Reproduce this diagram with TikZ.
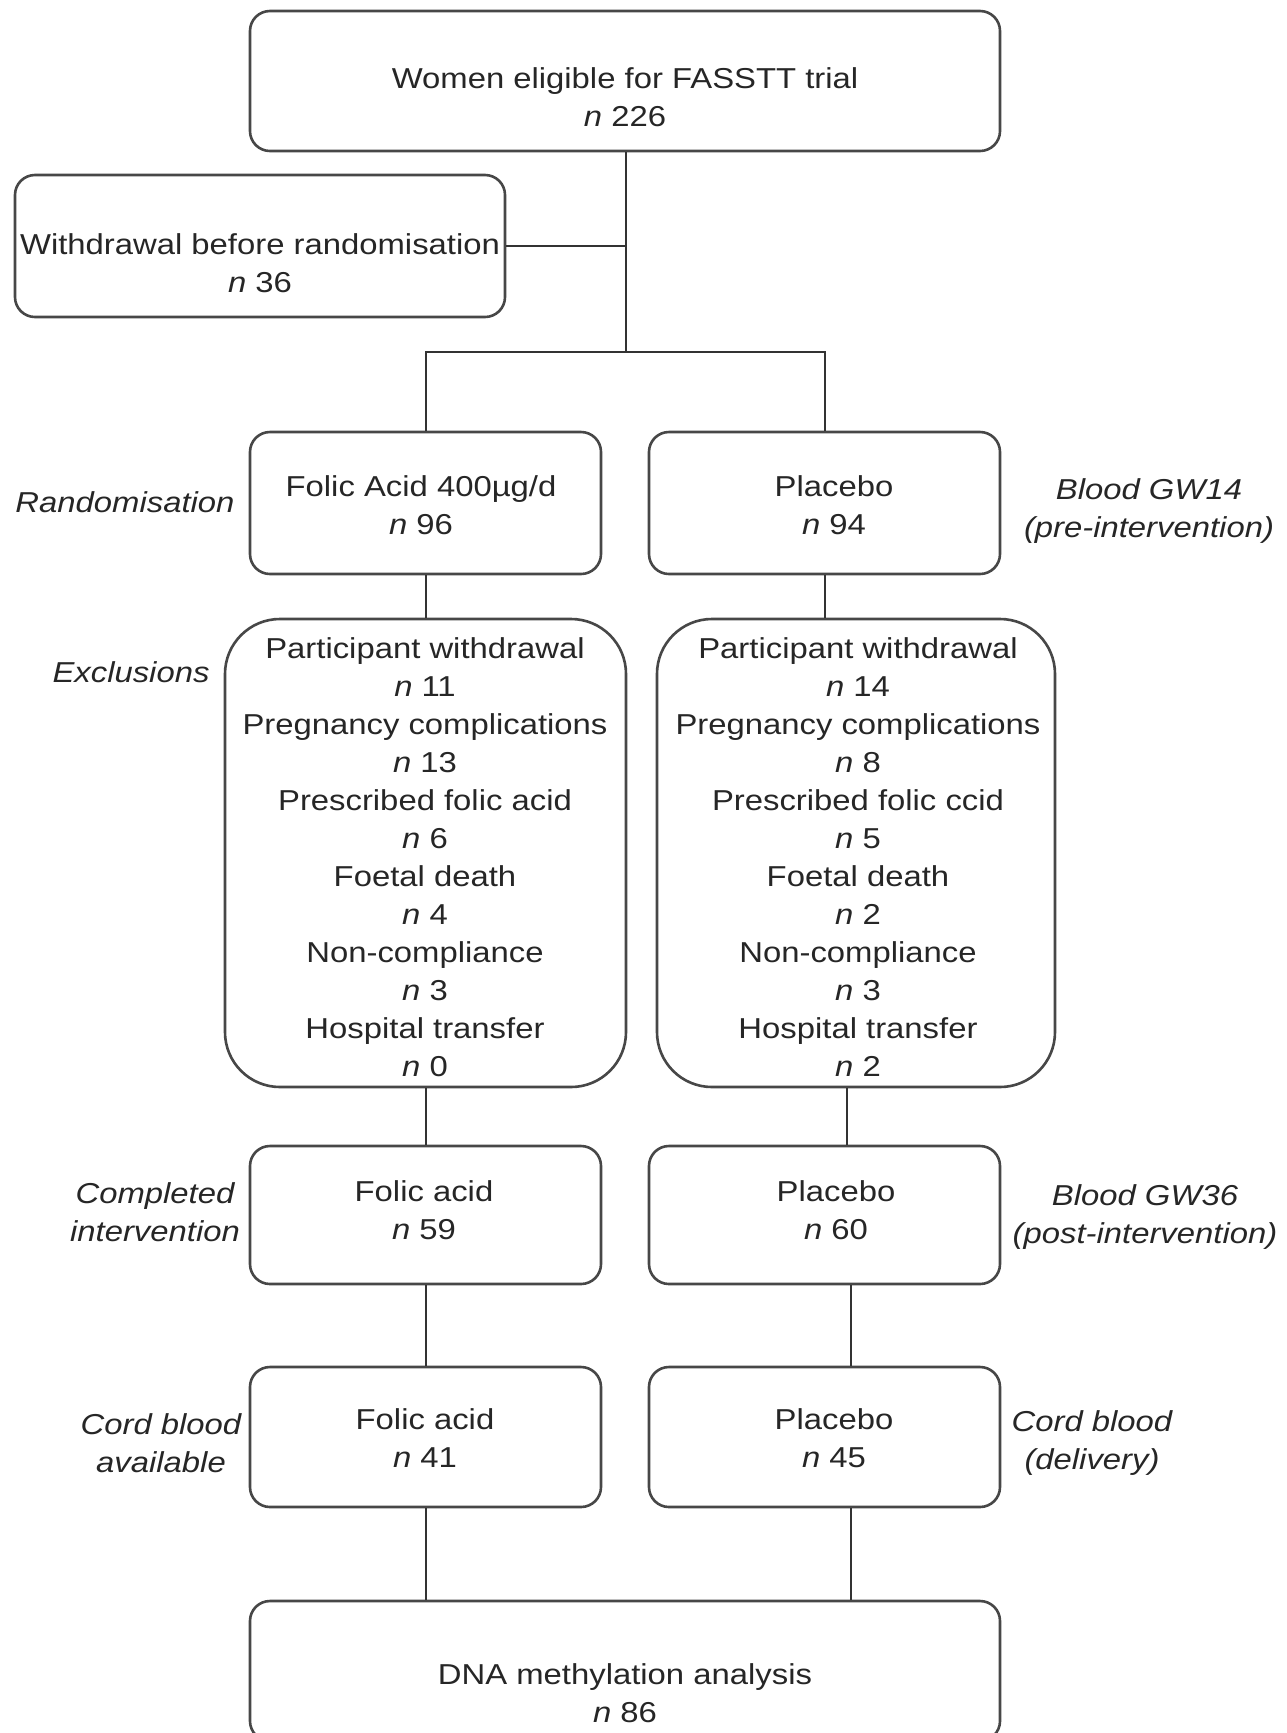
\documentclass[tikz,border=0pt]{standalone}
\usepackage{fontspec}
\setmainfont{Liberation Sans}[FakeStretch=1.14]
\begin{document}
\begin{tikzpicture}[x=0.5bp,y=-0.5bp,
  every node/.style={font=\fontsize{14.4bp}{19bp}\selectfont, text=black!85},
  box/.style={draw=black!72, line width=1.3bp, rounded corners=10bp, inner sep=0pt},
  exclbox/.style={box, rounded corners=27.5bp},
  txt/.style={align=center},
  side/.style={align=center, font=\fontsize{14.4bp}{19bp}\selectfont\itshape},
  conn/.style={draw=black!80, line width=1bp}]
\fill[white] (0,0) rectangle (1287,1733);
\useasboundingbox (0,0) rectangle (1287,1733);

% boxes
\node[box, minimum width=375bp, minimum height=70bp] (top) at (625,81) {};
\node[box, minimum width=245bp, minimum height=71bp] (wd) at (260,246) {};
\node[box, minimum width=175.5bp, minimum height=71bp] (randL) at (425.5,503) {};
\node[box, minimum width=175.5bp, minimum height=71bp] (randR) at (824.5,503) {};
\node[exclbox, minimum width=200.5bp, minimum height=234bp] (exclL) at (425.5,853) {};
\node[exclbox, minimum width=199bp, minimum height=234bp] (exclR) at (856,853) {};
\node[box, minimum width=175.5bp, minimum height=69bp] (compL) at (425.5,1215) {};
\node[box, minimum width=175.5bp, minimum height=69bp] (compR) at (824.5,1215) {};
\node[box, minimum width=175.5bp, minimum height=70bp] (cordL) at (425.5,1437) {};
\node[box, minimum width=175.5bp, minimum height=70bp] (cordR) at (824.5,1437) {};
\node[box, minimum width=375bp, minimum height=70bp] (dna) at (625,1671) {};

% box texts
\node[txt] (toptxt) at (625,97) {Women eligible for FASSTT trial\\\textit{n} 226};
\node[txt] (wdtxt) at (260,263) {Withdrawal before randomisation\\\textit{n} 36};
\node[txt] (randLtxt) at (421,505) {Folic Acid 400µg/d\\\textit{n} 96};
\node[txt] (randRtxt) at (834,505) {Placebo\\\textit{n} 94};
\node[txt] (exclLtxt) at (425,857) {Participant withdrawal\\\textit{n} 11\\Pregnancy complications\\\textit{n} 13\\Prescribed folic acid\\\textit{n} 6\\Foetal death\\\textit{n} 4\\Non-compliance\\\textit{n} 3\\Hospital transfer\\\textit{n} 0};
\node[txt] (exclRtxt) at (858,857) {Participant withdrawal\\\textit{n} 14\\Pregnancy complications\\\textit{n} 8\\Prescribed folic ccid\\\textit{n} 5\\Foetal death\\\textit{n} 2\\Non-compliance\\\textit{n} 3\\Hospital transfer\\\textit{n} 2};
\node[txt] (compLtxt) at (424,1210) {Folic acid\\\textit{n} 59};
\node[txt] (compRtxt) at (836,1210) {Placebo\\\textit{n} 60};
\node[txt] (cordLtxt) at (425,1438) {Folic acid\\\textit{n} 41};
\node[txt] (cordRtxt) at (834,1438) {Placebo\\\textit{n} 45};
\node[txt] (dnatxt) at (625,1693) {DNA methylation analysis\\\textit{n} 86};

% side labels
\node[side] (lRand) at (125,502) {Randomisation};
\node[side] (lB14) at (1149,511) {Blood GW14\\(pre-intervention)};
\node[side] (lExcl) at (131,672) {Exclusions};
\node[side] (lComp) at (155,1212) {Completed\\intervention};
\node[side] (lB36) at (1145,1217) {Blood GW36\\(post-intervention)};
\node[side] (lCordL) at (161,1443) {Cord blood\\available};
\node[side] (lCordR) at (1092,1443) {Cord blood\\(delivery)};

% connectors
\coordinate (br) at (626,352);
\coordinate (xRa) at (847,0);
\coordinate (xRb) at (851,0);
\draw[conn] (top.south -| br) -- (br);
\draw[conn] (wd.east) -- (wd.east -| br);
\draw[conn] (randL.north) |- (br) -| (randR.north);
\draw[conn] (randL.south) -- (exclL.north);
\draw[conn] (randR.south) -- (randR.south |- exclR.north);
\draw[conn] (exclL.south) -- (compL.north);
\draw[conn] (exclR.south -| xRa) -- (compR.north -| xRa);
\draw[conn] (compL.south) -- (cordL.north);
\draw[conn] (compR.south -| xRb) -- (cordR.north -| xRb);
\draw[conn] (cordL.south) -- (cordL.south |- dna.north);
\draw[conn] (cordR.south -| xRb) -- (dna.north -| xRb);
\end{tikzpicture}
\end{document}
